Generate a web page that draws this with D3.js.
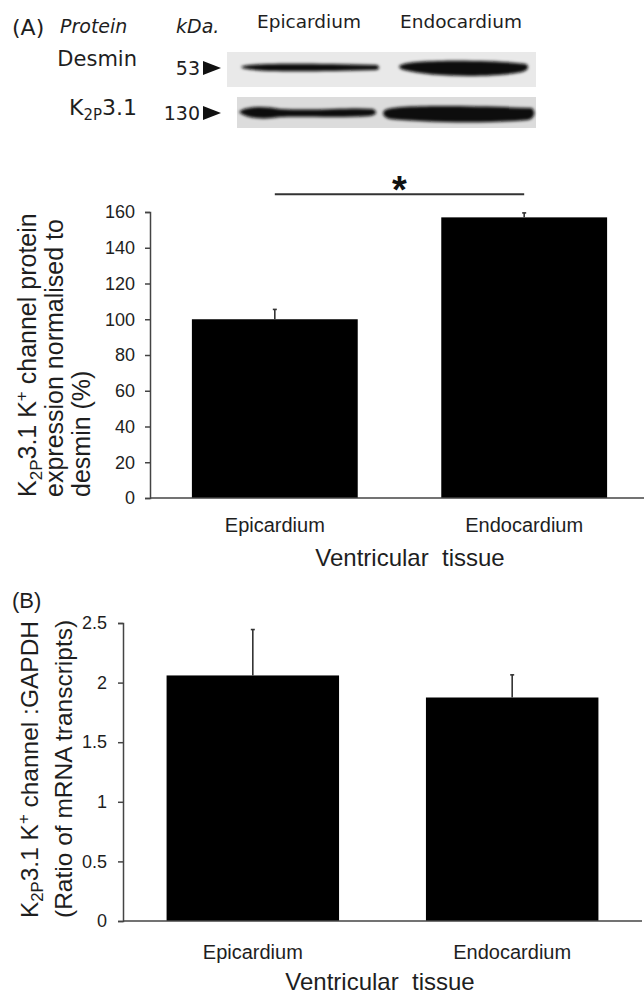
<!DOCTYPE html>
<html>
<head>
<meta charset="utf-8">
<script src="https://cdn.jsdelivr.net/npm/d3@7"></script>
<style>
  body { margin: 0; background: #fff; }
  svg { display: block; }
</style>
</head>
<body>
<div id="fig"></div>
<script>
// data
var tissues = ["Epicardium", "Endocardium"];
var proteinMean = [100, 157];
var proteinSem = [5.5, 2.5];
var proteinTicks = [0, 20, 40, 60, 80, 100, 120, 140, 160];
var mrnaMean = [2.06, 1.875];
var mrnaSem = [0.385, 0.19];
var mrnaTicks = [0, 0.5, 1, 1.5, 2, 2.5];
var blotProteins = ["Desmin", "K2P3.1"];
var blotKDa = ["53", "130"];

var W = 644, H = 997;
var ink = "#1e1e1e";
var axisCol = "#444";
var sans = "Liberation Sans, Arial, sans-serif";

var svg = d3.select("#fig").append("svg").attr("width", W).attr("height", H);

var defs = svg.append("defs");
defs.append("filter").attr("id", "blur").attr("x", "-20%").attr("y", "-100%").attr("width", "140%").attr("height", "300%")
	.append("feGaussianBlur").attr("stdDeviation", 1.6);

// text with sub / superscripts, parts = [[text, "sub"|"sup"|null], ...]
function richText(sel, parts, size) {
	var shift = 0;
	parts.forEach(function(p) {
		var t = sel.append("tspan").text(p[0]);
		var target = p[1] == "sub" ? size * 0.22 : (p[1] == "sup" ? -size * 0.38 : 0);
		if (target != shift) t.attr("dy", target - shift);
		shift = target;
		if (p[1]) t.attr("font-size", size * 0.68);
	});
	return sel;
}

//####################################################################
// Western blot header
//####################################################################
var head = svg.append("g").attr("font-family", "DejaVu Sans").attr("fill", ink);
head.append("text").attr("x", 12).attr("y", 35).attr("font-size", 22).text("(A)");
head.append("text").attr("x", 60).attr("y", 33).attr("font-size", 19).attr("font-style", "italic").text("Protein");
head.append("text").attr("x", 176).attr("y", 33).attr("font-size", 19).attr("font-style", "italic").text("kDa.");

var laneX = d3.scalePoint().domain(tissues).range([309, 461]);
head.selectAll(".lane").data(tissues).enter().append("text")
	.attr("x", function(d) { return laneX(d); }).attr("y", 28)
	.attr("text-anchor", "middle").attr("font-size", 18.5).text(function(d) { return d; });

var rowY = d3.scalePoint().domain(blotProteins).range([68, 113]);

head.append("text").attr("x", 137).attr("y", rowY("Desmin") - 2).attr("font-size", 21)
	.attr("text-anchor", "end").text("Desmin");
richText(head.append("text").attr("x", 137).attr("y", rowY("K2P3.1") + 2).attr("font-size", 22).attr("text-anchor", "end"),
	[["K", null], ["2P", "sub"], ["3.1", null]], 22);

blotProteins.forEach(function(p, i) {
	var y = rowY(p);
	head.append("text").attr("x", 200).attr("y", y + 7).attr("font-size", 19)
		.attr("text-anchor", "end").text(blotKDa[i]);
	head.append("path").attr("d", "M203," + (y - 7) + "L221," + y + "L203," + (y + 7) + "Z").attr("fill", "#111");
});

// blot strips
var strip1 = svg.append("g");
strip1.append("rect").attr("x", 227).attr("y", 52).attr("width", 309).attr("height", 35).attr("fill", "#e9e9e9");
var strip2 = svg.append("g");
strip2.append("rect").attr("x", 237).attr("y", 97).attr("width", 299).attr("height", 31).attr("fill", "#dcdcdc");

var bands = svg.append("g").attr("filter", "url(#blur)").attr("fill", "#0c0c0c");
// desmin
bands.append("path").attr("d", "M241,67 C245,63 300,63 377,65 C380,67 380,69 376,70 C300,72 245,72 241,67 Z");
bands.append("path").attr("d", "M401,65 C410,59 500,60 526,64 C530,67 528,70 522,72 C490,78 430,77 404,70 C398,68 398,66 401,65 Z");
// K2P3.1
bands.append("path").attr("d", "M239,112 C245,106 265,106 280,109 C320,111 350,107 373,109 C378,112 377,115 370,116 C340,118 300,116 280,117 C262,120 245,118 239,112 Z");
bands.append("path").attr("d", "M384,111 C390,104 470,106 532,108 C536,112 535,118 528,120 C480,124 420,122 390,119 C383,117 382,113 384,111 Z");

//####################################################################
// Bar panels
//####################################################################
function barPanel(opt) {
	var g = svg.append("g").attr("font-family", sans).attr("fill", ink);
	var x = d3.scaleBand().domain(tissues).range(opt.xr).paddingInner(0.335).paddingOuter(0.168);
	var y = d3.scaleLinear().domain([opt.ticks[0], opt.ticks[opt.ticks.length - 1]]).range(opt.yr);

	g.selectAll(".bar").data(tissues).enter().append("rect")
		.attr("x", function(d) { return x(d); })
		.attr("y", function(d, i) { return y(opt.mean[i]); })
		.attr("width", x.bandwidth())
		.attr("height", function(d, i) { return y(0) - y(opt.mean[i]); })
		.attr("fill", "#000");

	// error bars (upper only)
	var eb = g.append("g").attr("stroke", "#333").attr("stroke-width", 1.6);
	tissues.forEach(function(d, i) {
		var cx = x(d) + x.bandwidth() / 2;
		eb.append("line").attr("x1", cx).attr("x2", cx).attr("y1", y(opt.mean[i])).attr("y2", y(opt.mean[i] + opt.sem[i]));
		eb.append("line").attr("x1", cx - 2).attr("x2", cx + 2).attr("y1", y(opt.mean[i] + opt.sem[i])).attr("y2", y(opt.mean[i] + opt.sem[i]));
	});

	var yAxis = g.append("g").attr("transform", "translate(" + opt.xr[0] + ",0)")
		.call(d3.axisLeft(y).tickValues(opt.ticks).tickSize(5).tickPadding(opt.tickPad).tickFormat(d3.format("")));
	yAxis.attr("font-family", sans);
	yAxis.selectAll("text").attr("font-size", 18).attr("fill", ink);
	yAxis.selectAll("line,path").attr("stroke", axisCol).attr("stroke-width", 1.5);

	var xAxis = g.append("g").attr("transform", "translate(0," + y(0) + ")")
		.call(d3.axisBottom(x).tickSize(0).tickPadding(opt.xPad));
	xAxis.attr("font-family", sans);
	xAxis.select(".domain").attr("stroke", axisCol).attr("stroke-width", 1.5)
		.attr("d", "M" + opt.xr[0] + ",0H" + opt.xEnd);
	xAxis.selectAll("text").attr("font-size", 20).attr("fill", ink);

	g.append("text").attr("x", opt.titleX).attr("y", opt.titleY).attr("text-anchor", "middle")
		.attr("font-size", 24).attr("xml:space", "preserve").text("Ventricular  tissue");

	// rotated y label, lines start at the bottom
	opt.ylabel.forEach(function(parts, i) {
		var t = g.append("text").attr("font-size", opt.labelSize)
			.attr("transform", "translate(" + opt.labelX[i] + "," + opt.labelY + ") rotate(-90)");
		richText(t, parts, opt.labelSize);
	});
	return {x: x, y: y, g: g};
}

var A = barPanel({
	xr: [150, 649], xEnd: 644, yr: [498, 212], ticks: proteinTicks,
	mean: proteinMean, sem: proteinSem, tickPad: 10, xPad: 20,
	titleX: 410, titleY: 566,
	labelX: [36, 63, 90], labelY: 497, labelSize: 25,
	ylabel: [
		[["K", null], ["2P", "sub"], ["3.1 K", null], ["+", "sup"], [" channel protein", null]],
		[["expression normalised to", null]],
		[["desmin (%)", null]]
	]
});

// significance bar
var sx1 = A.x(tissues[0]) + A.x.bandwidth() / 2, sx2 = A.x(tissues[1]) + A.x.bandwidth() / 2;
A.g.append("line").attr("x1", sx1).attr("x2", sx2).attr("y1", A.y(170)).attr("y2", A.y(170))
	.attr("stroke", "#333").attr("stroke-width", 2);
A.g.append("text").attr("x", (sx1 + sx2) / 2).attr("y", A.y(170) + 9).attr("text-anchor", "middle")
	.attr("font-size", 38).attr("font-weight", "bold").attr("fill", "#111").text("*");

svg.append("text").attr("x", 12).attr("y", 608).attr("font-size", 22).attr("fill", ink)
	.attr("font-family", sans).text("(B)");

barPanel({
	xr: [123, 642], xEnd: 642, yr: [921, 623], ticks: mrnaTicks,
	mean: mrnaMean, sem: mrnaSem, tickPad: 11, xPad: 24,
	titleX: 380, titleY: 990,
	labelX: [38, 72], labelY: 918, labelSize: 24.5,
	ylabel: [
		[["K", null], ["2P", "sub"], ["3.1 K", null], ["+", "sup"], [" channel :GAPDH", null]],
		[["(Ratio of mRNA transcripts)", null]]
	]
});
</script>
</body>
</html>
